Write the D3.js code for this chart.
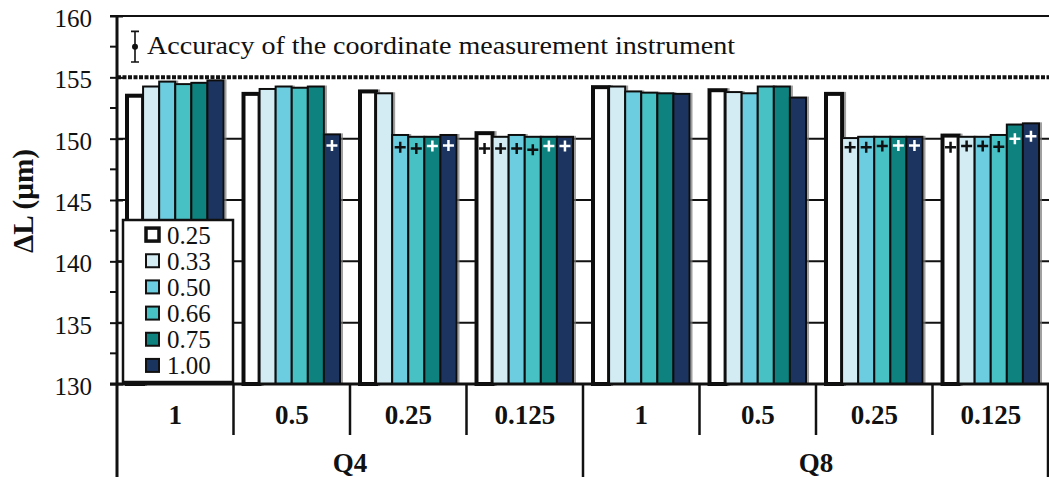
<!DOCTYPE html>
<html>
<head>
<meta charset="utf-8">
<script src="https://cdn.jsdelivr.net/npm/d3@7"></script>
<style>
  body { margin: 0; background: #fff; }
  text { font-family: "Liberation Serif", "Times New Roman", serif; fill: #111; }
</style>
</head>
<body>
<div id="chart"></div>
<script>
// data
var probes = ["Q4", "Q8"]
var resolutions = ["1", "0.5", "0.25", "0.125"]
var series = ["0.25", "0.33", "0.50", "0.66", "0.75", "1.00"]
var colors = ["#ffffff", "#d3ecf4", "#6dcde0", "#47c1c4", "#0d827e", "#1a3460"]
var yTicks = [130, 135, 140, 145, 150, 155, 160]

// bar heights, order: Q4 1, 0.5, 0.25, 0.125, Q8 1, 0.5, 0.25, 0.125
var val025 = [153.5, 153.65, 153.85, 150.45, 154.2, 153.95, 153.65, 150.25]
var val033 = [154.25, 154.05, 153.7, 150.15, 154.25, 153.8, 150.05, 150.15]
var val050 = [154.65, 154.25, 150.3, 150.3, 153.85, 153.7, 150.15, 150.15]
var val066 = [154.45, 154.15, 150.15, 150.15, 153.75, 154.25, 150.15, 150.3]
var val075 = [154.55, 154.25, 150.15, 150.15, 153.7, 154.25, 150.15, 151.15]
var val100 = [154.75, 150.35, 150.3, 150.15, 153.65, 153.35, 150.15, 151.25]

// "+" markers drawn on some bars (null = none)
var mark025 = [null, null, null, 149.2, null, null, null, 149.3]
var mark033 = [null, null, null, 149.2, null, null, 149.3, 149.4]
var mark050 = [null, null, 149.3, 149.2, null, null, 149.3, 149.4]
var mark066 = [null, null, 149.2, 149.1, null, null, 149.4, 149.35]
var mark075 = [null, null, 149.4, 149.4, null, null, 149.45, 150.0]
var mark100 = [null, 149.45, 149.45, 149.4, null, null, 149.45, 150.2]

var accuracy = { value: 157.5, plusMinus: 1.25 }
var accuracyText = "Accuracy of the coordinate measurement instrument"

var allValues = [val025, val033, val050, val066, val075, val100]
var allMarks = [mark025, mark033, mark050, mark066, mark075, mark100]

var groupKeys = []
probes.forEach(function (p) {
    resolutions.forEach(function (r) { groupKeys.push(p + "|" + r) })
})

var bars = []
series.forEach(function (s, si) {
    groupKeys.forEach(function (g, gi) {
        bars.push({ group: g, series: s, idx: si, value: allValues[si][gi], mark: allMarks[si][gi] })
    })
})

var chartW = 1049, chartH = 477
var plotLeft = 117, plotRight = 1049, plotTop = 16, plotBottom = 384
var serif = "'Liberation Serif', 'Times New Roman', serif"

var svg = d3.select("#chart").append("svg")
    .attr("width", chartW)
    .attr("height", chartH)

var y = d3.scaleLinear().domain([130, 160]).range([plotBottom, plotTop])
var x0 = d3.scaleBand().domain(groupKeys).range([plotLeft, plotRight])
var x1 = d3.scaleBand().domain(series).range([10, x0.bandwidth() - 10])
var xProbe = d3.scaleBand().domain(probes).range([plotLeft, plotRight])

var defs = svg.append("defs")
defs.append("filter").attr("id", "shadow")
    .attr("x", "-20%").attr("y", "-5%").attr("width", "160%").attr("height", "110%")
    .append("feDropShadow")
    .attr("dx", 2).attr("dy", 0).attr("stdDeviation", 0.6)
    .attr("flood-color", "#777").attr("flood-opacity", 0.7)

// gridlines
svg.append("g").selectAll("line")
    .data(yTicks.filter(function (t) { return t > 130 && t < 155 }))
    .enter().append("line")
    .attr("x1", plotLeft).attr("x2", plotRight)
    .attr("y1", d => y(d)).attr("y2", d => y(d))
    .attr("stroke", "#111").attr("stroke-width", 2)

svg.append("line")
    .attr("x1", plotLeft).attr("x2", plotRight)
    .attr("y1", y(155)).attr("y2", y(155))
    .attr("stroke", "#111").attr("stroke-width", 4)
    .attr("stroke-dasharray", "4,1.5")

svg.append("line")
    .attr("x1", plotLeft - 7).attr("x2", plotRight)
    .attr("y1", y(160)).attr("y2", y(160))
    .attr("stroke", "#111").attr("stroke-width", 2)

// bars
var barG = svg.append("g")
barG.selectAll("rect")
    .data(bars)
    .enter().append("rect")
    .attr("x", d => x0(d.group) + x1(d.series))
    .attr("y", d => y(d.value))
    .attr("width", x1.bandwidth())
    .attr("height", d => y(130) - y(d.value))
    .attr("fill", d => colors[d.idx])
    .attr("stroke", "#111")
    .attr("stroke-width", d => d.idx == 0 ? 4 : 2)
    .attr("filter", "url(#shadow)")

// + markers
barG.selectAll("path.mark")
    .data(bars.filter(d => d.mark != null))
    .enter().append("path")
    .attr("class", "mark")
    .attr("d", function (d) {
        var cx = x0(d.group) + x1(d.series) + x1.bandwidth() / 2
        var cy = y(d.mark)
        return "M" + (cx - 5.5) + "," + cy + "H" + (cx + 5.5) +
            "M" + cx + "," + y(d.mark + 0.45) + "V" + y(d.mark - 0.45)
    })
    .attr("stroke", d => d.idx >= 4 ? "#fff" : "#111")
    .attr("stroke-width", 2.5)
    .attr("fill", "none")

// y axis
var yAxis = d3.axisLeft(y).tickValues(yTicks).tickSize(7).tickSizeOuter(0).tickPadding(18)
var yAxisG = svg.append("g").attr("transform", "translate(" + plotLeft + ",0)").call(yAxis)
yAxisG.attr("font-family", null).attr("font-size", null)
yAxisG.select(".domain").remove()
yAxisG.selectAll(".tick line").attr("stroke", "#111").attr("stroke-width", 2)
    .attr("x1", 6)
yAxisG.selectAll(".tick text")
    .attr("dy", "0.42em")
    .attr("fill", "#111")
    .style("font-size", "25px")
    .style("font-family", serif)

svg.append("g").selectAll("line")
    .data(d3.range(132.5, 160, 5))
    .enter().append("line")
    .attr("x1", plotLeft - 7).attr("x2", plotLeft)
    .attr("y1", d => y(d)).attr("y2", d => y(d))
    .attr("stroke", "#111").attr("stroke-width", 2)

svg.append("line")
    .attr("x1", plotLeft).attr("x2", plotLeft)
    .attr("y1", plotTop).attr("y2", chartH)
    .attr("stroke", "#111").attr("stroke-width", 3)

svg.append("line")
    .attr("x1", plotLeft - 7).attr("x2", plotRight)
    .attr("y1", plotBottom).attr("y2", plotBottom)
    .attr("stroke", "#111").attr("stroke-width", 3)

svg.append("text")
    .attr("transform", "translate(33," + 201 + ") rotate(-90)")
    .attr("text-anchor", "middle")
    .attr("textLength", 104).attr("lengthAdjust", "spacingAndGlyphs")
    .style("font-size", "29px")
    .style("font-weight", "bold")
    .text("ΔL (μm)")

// accuracy annotation
var accX = 135
svg.append("path")
    .attr("d", "M" + (accX - 4) + "," + y(accuracy.value + accuracy.plusMinus) + "H" + (accX + 4) +
        "M" + accX + "," + y(accuracy.value + accuracy.plusMinus) + "V" + y(accuracy.value - accuracy.plusMinus) +
        "M" + (accX - 4) + "," + y(accuracy.value - accuracy.plusMinus) + "H" + (accX + 4))
    .attr("stroke", "#111").attr("stroke-width", 1.6).attr("fill", "none")
svg.append("circle")
    .attr("cx", accX).attr("cy", y(accuracy.value)).attr("r", 3)
    .attr("fill", "#111")
svg.append("text")
    .attr("x", 147).attr("y", 54)
    .attr("textLength", 588).attr("lengthAdjust", "spacingAndGlyphs")
    .style("font-size", "26px")
    .text(accuracyText)

// legend
var legend = svg.append("g")
legend.append("rect")
    .attr("x", 123).attr("y", 220).attr("width", 110).attr("height", 162)
    .attr("fill", "#fff").attr("stroke", "#111").attr("stroke-width", 2.5)
var rowY = d3.scaleBand().domain(series).range([222, 379])
var items = legend.selectAll("g.item")
    .data(series)
    .enter().append("g")
    .attr("class", "item")
    .attr("transform", d => "translate(0," + (rowY(d) + rowY.bandwidth() / 2) + ")")
items.append("rect")
    .attr("x", 146).attr("y", -7).attr("width", 13).attr("height", 13)
    .attr("fill", (d, i) => colors[i])
    .attr("stroke", "#111")
    .attr("stroke-width", (d, i) => i == 0 ? 3.5 : 2)
items.append("text")
    .attr("x", 167).attr("y", 0).attr("dy", "0.34em")
    .style("font-size", "25px")
    .text(d => d)

// category axis below
var catG = svg.append("g")
catG.selectAll("line.div")
    .data(groupKeys.slice(1))
    .enter().append("line")
    .attr("x1", d => x0(d)).attr("x2", d => x0(d))
    .attr("y1", plotBottom).attr("y2", d => d.split("|")[1] == resolutions[0] ? chartH : 435)
    .attr("stroke", "#111").attr("stroke-width", 2.5)
catG.append("line")
    .attr("x1", plotRight - 1).attr("x2", plotRight - 1)
    .attr("y1", plotBottom).attr("y2", chartH)
    .attr("stroke", "#111").attr("stroke-width", 2.5)

catG.selectAll("text.res")
    .data(groupKeys)
    .enter().append("text")
    .attr("class", "res")
    .attr("x", d => x0(d) + x0.bandwidth() / 2)
    .attr("y", 424)
    .attr("text-anchor", "middle")
    .style("font-size", "27px")
    .style("font-weight", "bold")
    .text(d => d.split("|")[1])

catG.selectAll("text.probe")
    .data(probes)
    .enter().append("text")
    .attr("class", "probe")
    .attr("x", d => xProbe(d) + xProbe.bandwidth() / 2)
    .attr("y", 472)
    .attr("text-anchor", "middle")
    .style("font-size", "27px")
    .style("font-weight", "bold")
    .text(d => d)
</script>
</body>
</html>
